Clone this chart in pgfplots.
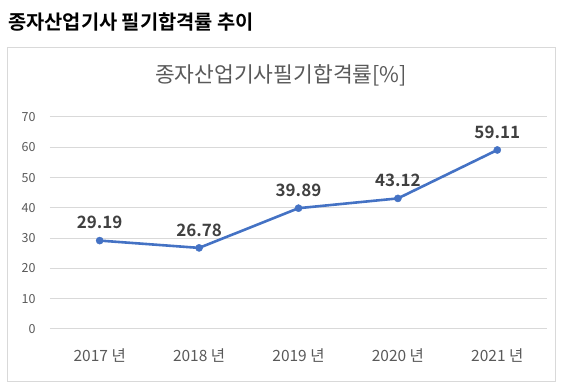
\documentclass[border=0pt]{standalone}
\usepackage{pgfplots}
\pgfplotsset{compat=1.18}
\usepackage{fontspec}
\setmainfont{Noto Sans CJK KR}[BoldFont={Noto Sans CJK KR Bold}]
\definecolor{lineblue}{HTML}{4472C4}
\definecolor{gridgray}{HTML}{D9D9D9}
\definecolor{textgray}{HTML}{595959}
\definecolor{labelgray}{HTML}{404040}
\begin{document}
\begin{tikzpicture}[x=1pt,y=1pt]
\path[use as bounding box] (0,0) rectangle (566,388);
\draw[color=gridgray, line width=1pt] (7,6) rectangle (555,340);
\node[anchor=west, inner sep=0pt, font=\fontsize{19.8}{22}\selectfont\bfseries] at (8,366) {종자산업기사 필기합격률 추이};
\node[anchor=center, inner sep=0pt, text=textgray, font=\fontsize{21.5}{24}\selectfont] at (281,313) {종자산업기사필기합격률[\%]};
\begin{axis}[
  at={(50pt,59pt)}, anchor=south west,
  scale only axis, width=497pt, height=212pt,
  xmin=-0.5, xmax=4.5, ymin=0, ymax=70,
  xtick={0,1,2,3,4},
  xticklabels={2017 년,2018 년,2019 년,2020 년,2021 년},
  ytick={0,10,20,30,40,50,60,70},
  axis line style={draw=none},
  major tick length=0pt,
  ymajorgrids, grid style={color=gridgray, line width=1pt},
  /pgf/number format/assume math mode=true,
  yticklabel style={font=\fontsize{12.5}{14}\selectfont, text=textgray, xshift=-11pt},
  xticklabel style={font=\fontsize{15.5}{18}\selectfont, text=textgray, yshift=-16pt},
  clip=false,
]
\addplot[color=lineblue, line width=2.6pt, line join=round, mark=*, mark size=3.6pt,
  mark options={solid, fill=lineblue, draw=lineblue, line width=0.4pt},
  nodes near coords, point meta=explicit symbolic,
  every node near coord/.append style={font=\fontsize{17}{20}\selectfont\bfseries, text=labelgray, anchor=south, yshift=8pt}]
coordinates {
(0,29.19) [29.19]
(1,26.78) [26.78]
(2,39.89) [39.89]
(3,43.12) [43.12]
(4,59.11) [59.11]
};
\end{axis}
\end{tikzpicture}
\end{document}
